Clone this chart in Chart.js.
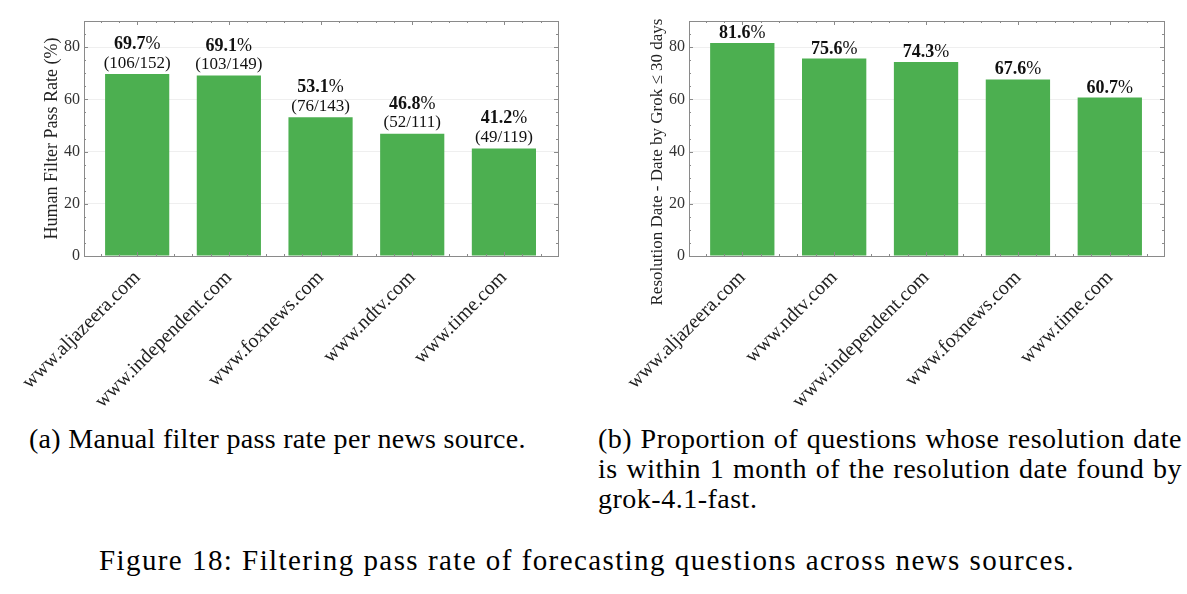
<!DOCTYPE html>
<html>
<head>
<meta charset="utf-8">
<script src="https://cdn.jsdelivr.net/npm/chart.js@4.4.1/dist/chart.umd.min.js"></script>
<style>
  body { margin: 0; background: #fff; }
  #page { position: relative; width: 1187px; height: 594px; overflow: hidden; font-family: "Liberation Serif", serif; color: #000; }
  .box { position: absolute; top: 0; height: 410px; }
  .cap { position: absolute; font-size: 28px; line-height: 30px; letter-spacing: 0.3px; }
  .just { text-align: justify; text-align-last: justify; }
</style>
</head>
<body>
<div id="page">
  <div class="box" style="left:0;width:575px"><canvas id="chartA"></canvas></div>
  <div class="box" style="left:600px;width:587px"><canvas id="chartB"></canvas></div>

  <div class="cap" style="left:29px;top:424px;white-space:nowrap">(a) Manual filter pass rate per news source.</div>
  <div class="cap" style="left:598px;top:424px;width:584px;letter-spacing:0.5px">
    <div class="just">(b) Proportion of questions whose resolution date</div>
    <div class="just">is within 1 month of the resolution date found by</div>
    <div>grok-4.1-fast.</div>
  </div>
  <div class="cap just" style="left:99px;top:545px;width:976px;font-size:29px;line-height:30px;letter-spacing:1.4px">Figure 18: Filtering pass rate of forecasting questions across news sources.</div>
</div>

<script>
// (a) manual filter pass rate
const sourcesA = ['www.aljazeera.com', 'www.independent.com', 'www.foxnews.com', 'www.ndtv.com', 'www.time.com'];
const passRateA = [69.7, 69.1, 53.1, 46.8, 41.2];
const passedA = [106, 103, 76, 52, 49];
const totalA = [152, 149, 143, 111, 119];

// (b) resolution date within 30 days of grok's date
const sourcesB = ['www.aljazeera.com', 'www.ndtv.com', 'www.independent.com', 'www.foxnews.com', 'www.time.com'];
const within30B = [81.6, 75.6, 74.3, 67.6, 60.7];

const yTicks = [0, 20, 40, 60, 80];

const serif = '"Liberation Serif", serif';
const green = '#4caf50';
const frameColor = '#8a8a8a';

Chart.defaults.font.family = serif;
Chart.defaults.color = '#222';

// box round the plot with small inward ticks, like the matplotlib style
const framePlugin = {
  id: 'frame',
  afterDatasetsDraw(chart) {
    const { ctx, chartArea: a, scales: { x, y } } = chart;
    ctx.save();
    ctx.strokeStyle = frameColor;
    ctx.lineWidth = 1;
    ctx.strokeRect(Math.round(a.left) + 0.5, Math.round(a.top) + 0.5,
      Math.round(a.right - a.left), Math.round(a.bottom - a.top));
    ctx.beginPath();
    for (let v = 0; v <= y.max; v += 5) {
      const py = Math.round(y.getPixelForValue(v)) + 0.5;
      const len = v % 20 === 0 ? 4 : 2;
      ctx.moveTo(a.left, py); ctx.lineTo(a.left + len, py);
      ctx.moveTo(a.right, py); ctx.lineTo(a.right - len, py);
    }
    for (let v = -0.4; v <= x.max; v += 0.2) {
      const px = Math.round(x.getPixelForValue(v)) + 0.5;
      const len = Math.abs(v - Math.round(v)) < 0.01 ? 4 : 2;
      ctx.moveTo(px, a.top); ctx.lineTo(px, a.top + len);
      ctx.moveTo(px, a.bottom); ctx.lineTo(px, a.bottom - len);
    }
    ctx.stroke();
    ctx.restore();
  }
};

function drawPct(ctx, value, cx, baseline) {
  ctx.font = 'bold 18px ' + serif;
  const num = value.toFixed(1);
  const w1 = ctx.measureText(num).width;
  ctx.font = '18px ' + serif;
  const w2 = ctx.measureText('%').width;
  const start = cx - (w1 + w2) / 2;
  ctx.textAlign = 'left';
  ctx.textBaseline = 'alphabetic';
  ctx.font = 'bold 18px ' + serif;
  ctx.fillText(num, start, baseline);
  ctx.font = '18px ' + serif;
  ctx.fillText('%', start + w1, baseline);
}

const labelsA = {
  id: 'labelsA',
  afterDatasetsDraw(chart) {
    const ctx = chart.ctx;
    ctx.save();
    ctx.fillStyle = '#111';
    chart.getDatasetMeta(0).data.forEach((bar, i) => {
      drawPct(ctx, passRateA[i], bar.x, bar.y - 25);
      ctx.font = '17px ' + serif;
      ctx.textAlign = 'center';
      ctx.fillText(`(${passedA[i]}/${totalA[i]})`, bar.x, bar.y - 6.5);
    });
    ctx.restore();
  }
};

const labelsB = {
  id: 'labelsB',
  afterDatasetsDraw(chart) {
    const ctx = chart.ctx;
    ctx.save();
    ctx.fillStyle = '#111';
    chart.getDatasetMeta(0).data.forEach((bar, i) => {
      drawPct(ctx, within30B[i], bar.x, bar.y - 5);
    });
    ctx.restore();
  }
};

// y title of (b) sits lower than the plot centre in the original
const titleB = {
  id: 'titleB',
  afterDraw(chart) {
    const ctx = chart.ctx;
    ctx.save();
    ctx.translate(58, 162);
    ctx.rotate(-Math.PI / 2);
    ctx.font = '17px ' + serif;
    ctx.fillStyle = '#222';
    ctx.textAlign = 'center';
    ctx.textBaseline = 'middle';
    ctx.fillText('Resolution Date - Date by Grok \u2264 30 days', 0, 0);
    ctx.restore();
  }
};

function makeChart(id, names, values, yWidth, padRight, yTitle, plugins) {
  return new Chart(document.getElementById(id), {
    type: 'bar',
    data: {
      datasets: [{
        data: values.map((v, i) => ({ x: i, y: v })),
        backgroundColor: green,
        borderWidth: 0,
        barPercentage: 0.7,
        categoryPercentage: 1
      }]
    },
    options: {
      responsive: true,
      maintainAspectRatio: false,
      animation: false,
      layout: { padding: { left: 0, right: padRight, top: 21, bottom: 0 } },
      plugins: { legend: { display: false }, tooltip: { enabled: false } },
      scales: {
        x: {
          type: 'linear',
          offset: false,
          min: -0.58,
          max: 4.59,
          grid: { display: false, offset: false },
          border: { display: false },
          afterBuildTicks: s => { s.ticks = names.map((_, i) => ({ value: i })); },
          afterFit: s => { s.height = 154; },
          ticks: {
            autoSkip: false,
            minRotation: 45,
            maxRotation: 45,
            padding: 2,
            color: '#222',
            font: { size: 20 },
            callback: v => names[v]
          }
        },
        y: {
          min: 0,
          max: 90,
          afterBuildTicks: s => { s.ticks = yTicks.map(v => ({ value: v })); },
          afterFit: s => { s.width = yWidth; },
          grid: { color: '#efefef', drawTicks: false },
          border: { display: false },
          ticks: { padding: 4, color: '#333', font: { size: 16 } },
          title: yTitle
        }
      }
    },
    plugins: [framePlugin].concat(plugins)
  });
}

makeChart('chartA', sourcesA, passRateA, 84, 17,
  { display: true, text: 'Human Filter Pass Rate (%)', color: '#222', font: { size: 18 }, padding: { top: 41, bottom: 0 } },
  [labelsA]);

makeChart('chartB', sourcesB, within30B, 89, 23,
  { display: false },
  [labelsB, titleB]);
</script>
</body>
</html>
